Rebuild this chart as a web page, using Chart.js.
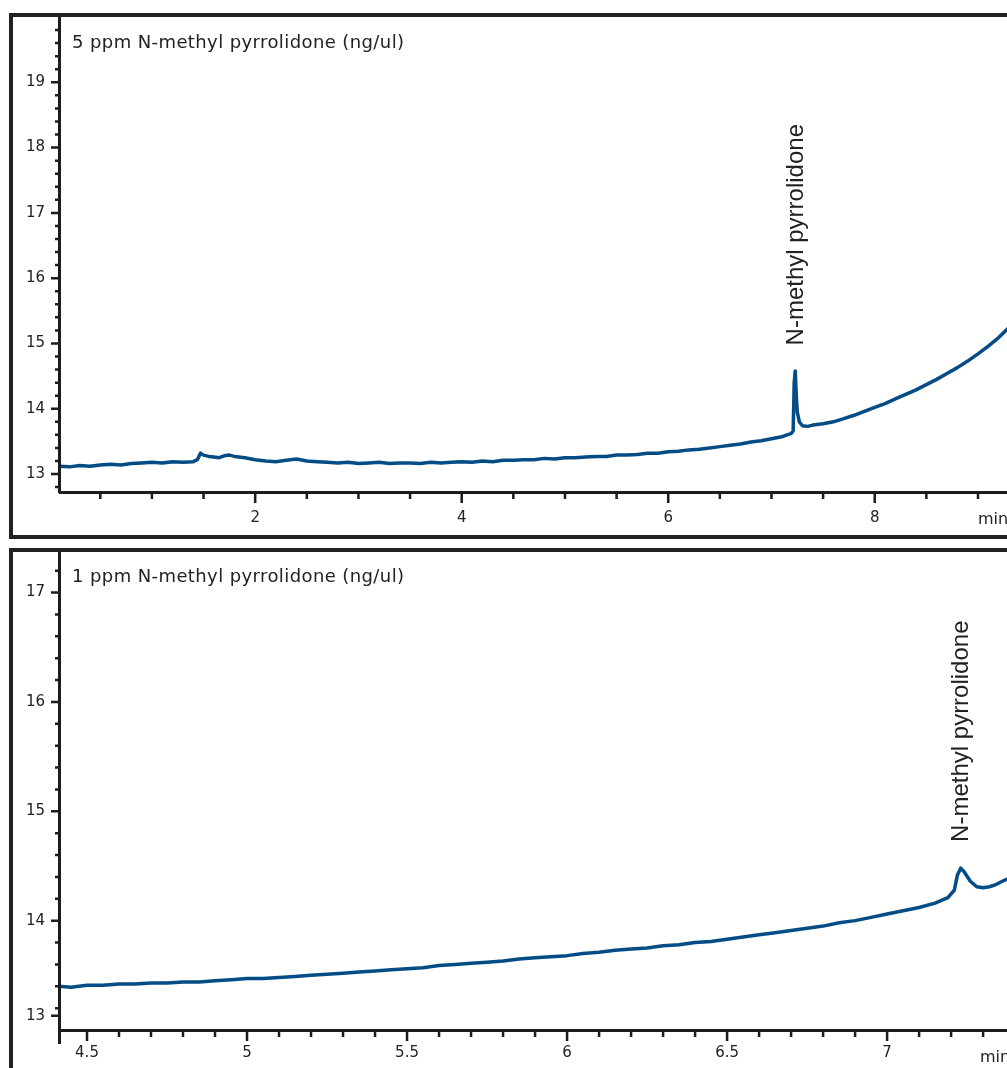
<!DOCTYPE html>
<html>
<head>
<meta charset="utf-8">
<script src="https://cdn.jsdelivr.net/npm/chart.js@4.4.1/dist/chart.umd.min.js"></script>
<style>
html, body { margin: 0; padding: 0; background: #fff; overflow: hidden; width: 1007px; height: 1068px; }
.frame { position: absolute; left: 9px; width: 1100px; border: 4px solid #222; box-sizing: border-box; }
#frame1 { top: 13px; height: 526px; }
#frame2 { top: 548px; height: 600px; }
canvas { position: absolute; left: 0; }
#chart1 { top: 0; }
#chart2 { top: 551px; }
</style>
</head>
<body>
<div class="frame" id="frame1"></div>
<div class="frame" id="frame2"></div>
<canvas id="chart1" width="1010" height="537"></canvas>
<canvas id="chart2" width="1010" height="524"></canvas>
<script>
// 5 ppm run (minutes / signal)
const topTime = [0.10,0.20,0.30,0.40,0.50,0.60,0.70,0.80,0.90,1.00,1.10,1.20,1.30,1.40,1.44,1.47,1.50,1.55,1.60,1.65,1.70,1.75,1.80,1.90,
  2.00,2.10,2.20,2.30,2.40,2.50,2.60,2.70,2.80,2.90,3.00,3.10,3.20,3.30,3.40,3.50,3.60,3.70,3.80,3.90,
  4.00,4.10,4.20,4.30,4.40,4.50,4.60,4.70,4.80,4.90,5.00,5.10,5.20,5.30,5.40,5.50,5.60,5.70,5.80,5.90,
  6.00,6.10,6.20,6.30,6.40,6.50,6.60,6.70,6.80,6.90,7.00,7.10,7.15,7.19,7.21,7.22,7.23,7.24,7.25,7.27,
  7.30,7.35,7.40,7.50,7.60,7.70,7.80,7.90,8.00,8.10,8.20,8.30,8.40,8.50,8.60,8.70,8.80,8.90,9.00,9.10,9.20,9.31];
const topSignal = [13.12,13.11,13.13,13.12,13.14,13.15,13.14,13.16,13.17,13.18,13.17,13.19,13.18,13.19,13.22,13.32,13.29,13.27,13.26,13.25,13.28,13.29,13.27,13.25,
  13.22,13.20,13.19,13.21,13.23,13.20,13.19,13.18,13.17,13.18,13.16,13.17,13.18,13.16,13.17,13.17,13.16,13.18,13.17,13.18,
  13.19,13.18,13.20,13.19,13.21,13.21,13.22,13.22,13.24,13.23,13.25,13.25,13.26,13.27,13.27,13.29,13.29,13.30,13.32,13.32,
  13.34,13.35,13.37,13.38,13.40,13.42,13.44,13.46,13.49,13.51,13.54,13.57,13.60,13.62,13.66,14.40,14.58,14.20,13.95,13.80,
  13.74,13.73,13.75,13.77,13.80,13.85,13.90,13.96,14.02,14.08,14.15,14.22,14.29,14.37,14.45,14.54,14.63,14.73,14.84,14.96,15.09,15.26];

// 1 ppm run
const bottomTime = [4.41,4.45,4.50,4.55,4.60,4.65,4.70,4.75,4.80,4.85,4.90,4.95,5.00,5.05,5.10,5.15,5.20,5.25,5.30,5.35,5.40,5.45,
  5.50,5.55,5.60,5.65,5.70,5.75,5.80,5.85,5.90,5.95,6.00,6.05,6.10,6.15,6.20,6.25,6.30,6.35,6.40,6.45,
  6.50,6.55,6.60,6.65,6.70,6.75,6.80,6.85,6.90,6.95,7.00,7.05,7.10,7.15,7.19,7.21,7.22,7.23,7.24,7.26,7.28,7.30,7.32,7.34,7.36,7.39];
const bottomSignal = [13.40,13.39,13.41,13.41,13.42,13.42,13.43,13.43,13.44,13.44,13.45,13.46,13.47,13.47,13.48,13.49,13.50,13.51,13.52,13.53,13.54,13.55,
  13.56,13.57,13.59,13.60,13.61,13.62,13.63,13.65,13.66,13.67,13.68,13.70,13.71,13.73,13.74,13.75,13.77,13.78,13.80,13.81,
  13.83,13.85,13.87,13.89,13.91,13.93,13.95,13.98,14.00,14.03,14.06,14.09,14.12,14.16,14.21,14.28,14.42,14.48,14.45,14.36,14.31,14.30,14.31,14.33,14.36,14.40];

const topXTicks = [2, 4, 6, 8];
const topXLabels = ['2', '4', '6', '8'];
const topYTicks = [13, 14, 15, 16, 17, 18, 19];
const topYLabels = ['13', '14', '15', '16', '17', '18', '19'];
const bottomXTicks = [4.5, 5, 5.5, 6, 6.5, 7];
const bottomXLabels = ['4.5', '5', '5.5', '6', '6.5', '7'];
const bottomYTicks = [13.13, 14, 15, 16, 17];
const bottomYLabels = ['13', '14', '15', '16', '17'];

const topTitle = '5 ppm N-methyl pyrrolidone (ng/ul)';
const bottomTitle = '1 ppm N-methyl pyrrolidone (ng/ul)';
const peakName = 'N-methyl pyrrolidone';

function isMajor(list, v) {
  return list.some(m => Math.abs(m - v) < 1e-6);
}

function makeChart(id, o) {
  const points = o.time.map((t, i) => ({ x: t, y: o.signal[i] }));

  const decor = {
    id: 'decor',
    afterDraw(chart) {
      const ctx = chart.ctx;
      const a = chart.chartArea;
      const xs = chart.scales.x, ys = chart.scales.y;
      ctx.save();
      ctx.strokeStyle = '#1c1c1c';
      ctx.lineWidth = 3;
      ctx.beginPath();
      ctx.moveTo(a.left + 0.5, a.top);
      ctx.lineTo(a.left + 0.5, a.bottom + o.yAxisExtra);
      ctx.moveTo(a.left, a.bottom + 0.5);
      ctx.lineTo(a.right, a.bottom + 0.5);
      ctx.stroke();

      // tick marks, minor ones every step, long ones on labelled values
      ctx.lineWidth = 2.5;
      ctx.beginPath();
      for (let k = Math.ceil(xs.min / o.xStep); k * o.xStep <= xs.max; k++) {
        const v = k * o.xStep;
        const px = xs.getPixelForValue(v);
        ctx.moveTo(px, a.bottom);
        ctx.lineTo(px, a.bottom + (isMajor(o.xTicks, v) ? 11 : 7));
      }
      for (let k = Math.ceil(ys.min / o.yStep); k * o.yStep <= ys.max; k++) {
        const v = k * o.yStep;
        if (Math.abs(v - Math.round(v)) < 1e-6) continue;
        const py = ys.getPixelForValue(v);
        ctx.moveTo(a.left, py);
        ctx.lineTo(a.left - 4, py);
      }
      o.yTicks.forEach(v => {
        const py = ys.getPixelForValue(v);
        ctx.moveTo(a.left, py);
        ctx.lineTo(a.left - 8, py);
      });
      ctx.stroke();

      ctx.fillStyle = '#222';
      ctx.font = '18px "DejaVu Sans"';
      ctx.letterSpacing = '0.4px';
      ctx.textAlign = 'left';
      ctx.textBaseline = 'alphabetic';
      ctx.fillText(o.title, a.left + 13, a.top + 31);
      ctx.letterSpacing = '0px';

      ctx.font = '16px "DejaVu Sans"';
      ctx.fillText('min', xs.getPixelForValue(o.minAt), a.bottom + 32);

      ctx.font = '24px "Liberation Sans"';
      ctx.translate(xs.getPixelForValue(o.peakAt) + 8, ys.getPixelForValue(o.labelFrom));
      ctx.rotate(-Math.PI / 2);
      ctx.fillText(peakName, 0, 0);
      ctx.restore();
    }
  };

  return new Chart(document.getElementById(id), {
    type: 'line',
    data: {
      datasets: [{
        data: points,
        borderColor: '#044c85',
        borderWidth: 3.5,
        pointRadius: 0,
        tension: 0,
        borderJoinStyle: 'round'
      }]
    },
    options: {
      responsive: false,
      animation: false,
      devicePixelRatio: 1,
      events: [],
      layout: { padding: { top: o.padTop, left: 0, right: 0, bottom: 0 } },
      plugins: { legend: { display: false }, tooltip: { enabled: false } },
      scales: {
        x: {
          type: 'linear',
          min: o.xMin,
          max: o.xMax,
          border: { display: false },
          grid: { display: false, drawTicks: false },
          afterBuildTicks: s => { s.ticks = o.xTicks.map(v => ({ value: v })); },
          afterFit: s => { s.height = 45; s.paddingLeft = 0; s.paddingRight = 0; },
          ticks: {
            autoSkip: false,
            maxRotation: 0,
            padding: o.xPad,
            color: '#222',
            font: { family: 'DejaVu Sans', size: 15 },
            callback: (v, i) => o.xLabels[i]
          }
        },
        y: {
          type: 'linear',
          min: o.yMin,
          max: o.yMax,
          border: { display: false },
          grid: { display: false, drawTicks: false },
          afterBuildTicks: s => { s.ticks = o.yTicks.map(v => ({ value: v })); },
          afterFit: s => { s.width = 59; s.paddingTop = 0; s.paddingBottom = 0; },
          ticks: {
            autoSkip: false,
            padding: 14,
            color: '#222',
            font: { family: 'DejaVu Sans', size: 15 },
            callback: (v, i) => o.yLabels[i]
          }
        }
      }
    },
    plugins: [decor]
  });
}

makeChart('chart1', {
  time: topTime, signal: topSignal,
  xMin: 0.10, xMax: 9.31, yMin: 12.725, yMax: 20,
  xTicks: topXTicks, xLabels: topXLabels, yTicks: topYTicks, yLabels: topYLabels,
  xStep: 0.5, yStep: 0.2, padTop: 17, xPad: 17, yAxisExtra: 1,
  title: topTitle, minAt: 9.0, peakAt: 7.225, labelFrom: 14.97
});

makeChart('chart2', {
  time: bottomTime, signal: bottomSignal,
  xMin: 4.4125, xMax: 7.384, yMin: 13, yMax: 17.38,
  xTicks: bottomXTicks, xLabels: bottomXLabels, yTicks: bottomYTicks, yLabels: bottomYLabels,
  xStep: 0.1, yStep: 0.2, padTop: 0, xPad: 14, yAxisExtra: 14,
  title: bottomTitle, minAt: 7.29, peakAt: 7.228, labelFrom: 14.72
});
</script>
</body>
</html>
